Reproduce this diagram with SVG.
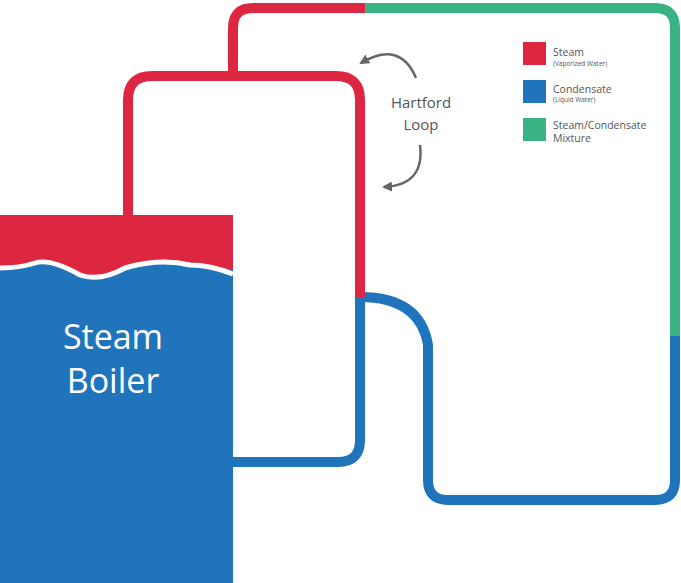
<svg xmlns="http://www.w3.org/2000/svg" width="681" height="583" viewBox="0 0 681 583">
<defs>
<style>
.p{fill:none;stroke-width:10;stroke-linecap:butt}
.r{stroke:#dd263f}.b{stroke:#1f74bb}.g{stroke:#39b383}
.a{fill:none;stroke:#666;stroke-width:2.5}
text{font-family:"Open Sans","Liberation Sans",sans-serif;fill:#555}
</style>
<marker id="ah" viewBox="0 0 10 10" refX="8" refY="5" markerWidth="4" markerHeight="4" orient="auto"><path d="M0,0L10,5L0,10z" fill="#666"/></marker>
</defs>
<g id="connectors">
<path class="p r" d="M233,72V28Q233,8 253,8H365"/>
<path class="p g" d="M365,8H655Q675,8 675,28V336"/>
<path class="p b" d="M675,336V480Q675,500 655,500H448Q428,500 428,480V345Q420,297 360,297"/>
<path class="p r" d="M128,216V100Q128,76 152,76H336Q360,76 360,100V297"/>
<path class="p b" d="M360,297V440Q360,462 338,462H233"/>
<path class="a" marker-end="url(#ah)" d="M416,78Q400,40 361,63"/>
<path class="a" marker-end="url(#ah)" d="M420,145Q425,185 384,187"/>
</g>
<g id="boiler">
<rect x="0" y="215" width="233" height="368" fill="#1f74bb"/>
<path d="M0,215H233V270Q210,265 190,265Q160,258 125,268Q100,282 80,275Q50,258 35,263Q20,268 0,268Z" fill="#dd263f"/>
<path d="M0,268Q20,268 35,263Q50,258 80,275Q100,282 125,268Q160,258 190,265Q210,265 233,274" fill="none" stroke="#fff" stroke-width="5"/>
<text x="113" y="349" font-size="34" text-anchor="middle" style="fill:#fff">Steam</text>
<text x="113" y="393" font-size="34" text-anchor="middle" style="fill:#fff">Boiler</text>
</g>
<g id="label"><text x="421" y="108" font-size="15" text-anchor="middle">Hartford</text><text x="421" y="130" font-size="15" text-anchor="middle">Loop</text></g>
<g id="legend">
<rect x="523" y="42" width="23" height="23" fill="#dd263f"/>
<text x="553" y="56" font-size="10.5">Steam</text><text x="553" y="66" font-size="6.5">(Vaporized Water)</text>
<rect x="523" y="80" width="23" height="23" fill="#1f74bb"/>
<text x="553" y="93" font-size="10.5">Condensate</text><text x="553" y="102" font-size="6.5">(Liquid Water)</text>
<rect x="523" y="118" width="23" height="23" fill="#39b383"/>
<text x="553" y="129" font-size="10.5">Steam/Condensate</text><text x="553" y="142" font-size="10.5">Mixture</text>
</g>
</svg>
